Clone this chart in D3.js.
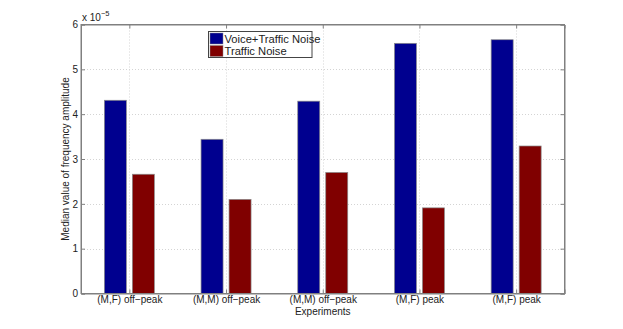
<!DOCTYPE html>
<html>
<head>
<meta charset="utf-8">
<script src="https://cdn.jsdelivr.net/npm/d3@7"></script>
<style>
  body { margin: 0; background: #fff; }
  text { font-family: "Liberation Sans", Arial, sans-serif; }
</style>
</head>
<body>
<svg id="chart" width="623" height="329"></svg>
<script>
const categories = ["(M,F) off\u2212peak", "(M,M) off\u2212peak", "(M,M) off\u2212peak", "(M,F) peak", "(M,F) peak"];
const seriesNames = ["Voice+Traffic Noise", "Traffic Noise"];
const voiceTraffic = [4.31, 3.44, 4.29, 5.58, 5.66];
const trafficOnly = [2.66, 2.10, 2.70, 1.91, 3.29];
const yTicks = [0, 1, 2, 3, 4, 5, 6];
const colors = ["#00008f", "#800000"];

const svg = d3.select("#chart");
const margin = { left: 81, right: 58.5, top: 24.5, bottom: 35.5 };
const W = 623, H = 329;
const x0 = margin.left, x1 = W - margin.right;
const yb = H - margin.bottom, yt = margin.top;

const x = d3.scaleLinear().domain([0.5, 5.5]).range([x0, x1]);
const y = d3.scaleLinear().domain([0, 6]).range([yb, yt]);
const axisColor = "#808080";

// grid
const grid = svg.append("g").attr("stroke", "#d4d4d4").attr("stroke-dasharray", "1,2").attr("stroke-width", 1);
grid.selectAll(".gx").data(categories).join("line")
  .attr("x1", (d, i) => Math.round(x(i + 1)) + 0.5).attr("x2", (d, i) => Math.round(x(i + 1)) + 0.5)
  .attr("y1", yt).attr("y2", yb);
grid.selectAll(".gy").data(yTicks.slice(1, -1)).join("line")
  .attr("x1", x0).attr("x2", x1)
  .attr("y1", d => Math.round(y(d)) + 0.5).attr("y2", d => Math.round(y(d)) + 0.5);

// bars
const barW = 22, offset = 14;
const series = [voiceTraffic, trafficOnly];
series.forEach((vals, s) => {
  svg.append("g").selectAll("rect").data(vals).join("rect")
    .attr("x", (d, i) => x(i + 1) + (s === 0 ? -offset : offset) - barW / 2)
    .attr("y", d => y(d))
    .attr("width", barW)
    .attr("height", d => yb - y(d))
    .attr("fill", colors[s])
    .attr("stroke", "#8a8a8a")
    .attr("stroke-width", 0.7);
});

// axes box
const axes = svg.append("g");
axes.append("rect").attr("x", x0).attr("y", yt).attr("width", x1 - x0).attr("height", yb - yt)
  .attr("fill", "none").attr("stroke", axisColor).attr("stroke-width", 1);

const yAxisL = d3.axisLeft(y).tickValues(yTicks).tickSize(-4).tickPadding(3).tickFormat(d3.format("d"));
const gyl = axes.append("g").attr("transform", `translate(${x0},0)`).call(yAxisL);
const yAxisR = d3.axisRight(y).tickValues(yTicks).tickSize(-4).tickFormat("");
const gyr = axes.append("g").attr("transform", `translate(${x1},0)`).call(yAxisR);
const xAxis = d3.axisBottom(x).tickValues([1, 2, 3, 4, 5]).tickSize(-4).tickPadding(2)
  .tickFormat(d => categories[d - 1]);
const gx = axes.append("g").attr("transform", `translate(0,${yb})`).call(xAxis);
const xAxisT = d3.axisTop(x).tickValues([1, 2, 3, 4, 5]).tickSize(-4).tickFormat("");
const gxt = axes.append("g").attr("transform", `translate(0,${yt})`).call(xAxisT);

[gyl, gyr, gx, gxt].forEach(g => {
  g.select(".domain").attr("stroke", axisColor);
  g.selectAll(".tick line").attr("stroke", axisColor);
  g.selectAll("text").attr("font-size", 10).attr("fill", "#222")
    .attr("font-family", "'Liberation Sans', Arial, sans-serif");
});

// exponent
const ex = svg.append("text").attr("x", x0 + 1).attr("y", yt - 4).attr("font-size", 10).attr("fill", "#222");
ex.append("tspan").text("x 10");
ex.append("tspan").attr("dy", -5).attr("font-size", 7.5).text("\u22125");

// axis titles
svg.append("text").attr("x", (x0 + x1) / 2).attr("y", 314.5).attr("text-anchor", "middle")
  .attr("font-size", 10).attr("fill", "#222").text("Experiments");
svg.append("text").attr("transform", `translate(69,${(yt + yb) / 2}) rotate(-90)`)
  .attr("text-anchor", "middle").attr("font-size", 10).attr("fill", "#222")
  .text("Median value of frequency amplitude");

// legend
const lg = svg.append("g").attr("transform", "translate(208.5,31.5)");
lg.append("rect").attr("width", 103.5).attr("height", 26).attr("fill", "#fff").attr("stroke", "#444").attr("stroke-width", 1);
seriesNames.forEach((name, i) => {
  lg.append("rect").attr("x", 1.5).attr("y", 1.5 + i * 12.5).attr("width", 13).attr("height", 11)
    .attr("fill", colors[i]).attr("stroke", "#8a8a8a").attr("stroke-width", 0.5);
  lg.append("text").attr("x", 16).attr("y", 11 + i * 12.5).attr("font-size", 11.2).attr("fill", "#222").text(name);
});
</script>
</body>
</html>
